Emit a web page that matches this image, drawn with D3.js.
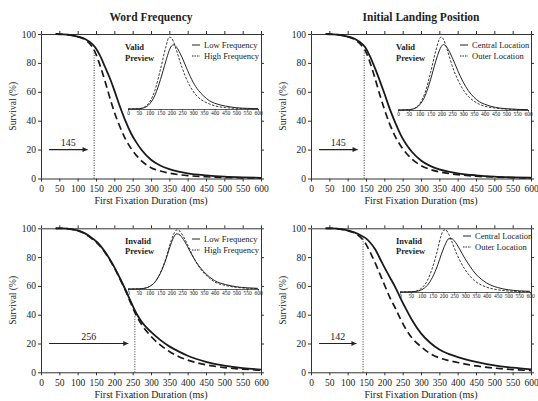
<!DOCTYPE html>
<html>
<head>
<meta charset="utf-8">
<script src="https://cdn.jsdelivr.net/npm/d3@7"></script>
<style>
  body { margin: 0; background: #fff; }
  text { font-family: "Liberation Serif", "DejaVu Serif", serif; fill: #222; }
</style>
</head>
<body>
<div id="chart"></div>
<script>
// ---- data ----
var xTicks = [0, 50, 100, 150, 200, 250, 300, 350, 400, 450, 500, 550, 600];
var yTicks = [0, 20, 40, 60, 80, 100];

// survival curves (%), sampled at these first fixation durations (ms)
var survTime = [40, 60, 80, 100, 120, 140, 150, 160, 175, 190, 200, 215, 230, 245, 260, 275, 300, 325, 350, 375, 400, 450, 500, 550, 600];
var wfValidLow      = [100, 99.8, 99.3, 98.2, 96.5, 93, 90, 85.5, 77, 68, 61, 50, 40, 31.5, 25, 19.5, 13, 9, 6.5, 4.8, 3.6, 2.2, 1.3, 0.8, 0.5];
var wfValidHigh     = [100, 99.8, 99.3, 98.2, 96, 91, 86, 79, 67, 54, 46, 36, 27.5, 21, 16, 12, 7.5, 5.2, 3.7, 2.7, 2.0, 1.2, 0.7, 0.45, 0.3];
var ilpValidCentral = [100, 99.8, 99.3, 98.2, 96.5, 93, 90, 85, 76, 66, 59, 48, 38.5, 30, 23.5, 18.5, 12.5, 8.7, 6.3, 4.7, 3.6, 2.2, 1.3, 0.8, 0.5];
var ilpValidOuter   = [100, 99.8, 99.3, 98.2, 96, 91.5, 87.5, 81, 69, 56, 48, 37.5, 29, 22.5, 17.5, 13.5, 9, 6.3, 4.6, 3.5, 2.7, 1.6, 1.0, 0.6, 0.4];
var wfInvalidLow    = [100, 99.9, 99.5, 98.5, 96.5, 93, 91, 88.5, 83.5, 77.5, 73, 65.5, 57.5, 49, 41, 35, 28, 22.5, 18, 14.5, 11.5, 7.3, 4.6, 2.9, 1.9];
var wfInvalidHigh   = [100, 99.9, 99.5, 98.4, 96.2, 92.5, 90.5, 88, 83, 77, 72.5, 65, 57, 48, 39.5, 33, 25, 19, 14.5, 11, 8.5, 5.2, 3.3, 2.2, 1.5];
var ilpInvalidCentral = [100, 99.9, 99.5, 98.5, 97, 94.5, 93, 90.5, 85.5, 78, 73, 66, 59, 51, 43.5, 36.5, 27, 20.5, 15.8, 12.8, 10.6, 7.3, 4.8, 3.2, 2];
var ilpInvalidOuter   = [100, 99.9, 99.4, 98.3, 96.5, 92.5, 89, 84, 76, 67, 61, 52, 44.5, 36.5, 29.5, 24, 17.8, 13, 10, 8.2, 6.8, 4.4, 2.9, 1.9, 1.2];

// inset density curves (relative height), sampled at these durations (ms)
var densTime = [0, 50, 75, 100, 125, 150, 175, 190, 200, 210, 225, 240, 250, 275, 300, 325, 350, 375, 400, 450, 500, 550, 600];
var wfValidLowD      = [0, 0.005, 0.02, 0.08, 0.22, 0.46, 0.75, 0.91, 0.98, 1.0, 0.96, 0.87, 0.8, 0.6, 0.42, 0.29, 0.2, 0.13, 0.09, 0.045, 0.02, 0.01, 0.005];
var wfValidHighD     = [0, 0.005, 0.03, 0.11, 0.3, 0.62, 0.97, 1.12, 1.11, 1.05, 0.9, 0.74, 0.64, 0.43, 0.28, 0.18, 0.12, 0.08, 0.05, 0.022, 0.01, 0.005, 0.002];
var ilpValidCentralD = [0, 0.005, 0.02, 0.08, 0.22, 0.47, 0.77, 0.92, 0.99, 1.02, 0.98, 0.89, 0.82, 0.62, 0.44, 0.3, 0.2, 0.13, 0.09, 0.04, 0.02, 0.01, 0.005];
var ilpValidOuterD   = [0, 0.005, 0.025, 0.1, 0.27, 0.58, 0.93, 1.1, 1.14, 1.1, 0.96, 0.8, 0.69, 0.48, 0.32, 0.21, 0.14, 0.09, 0.06, 0.03, 0.014, 0.007, 0.003];
var wfInvalidLowD    = [0, 0.003, 0.01, 0.04, 0.11, 0.25, 0.46, 0.62, 0.72, 0.8, 0.86, 0.84, 0.8, 0.66, 0.5, 0.37, 0.27, 0.19, 0.13, 0.07, 0.035, 0.018, 0.01];
var wfInvalidHighD   = [0, 0.003, 0.01, 0.04, 0.11, 0.26, 0.48, 0.65, 0.76, 0.85, 0.92, 0.9, 0.85, 0.69, 0.51, 0.36, 0.25, 0.17, 0.11, 0.055, 0.026, 0.012, 0.006];
var ilpInvalidCentralD = [0, 0.003, 0.01, 0.035, 0.1, 0.23, 0.43, 0.58, 0.67, 0.75, 0.83, 0.83, 0.8, 0.67, 0.52, 0.39, 0.28, 0.2, 0.14, 0.07, 0.035, 0.018, 0.01];
var ilpInvalidOuterD   = [0, 0.004, 0.015, 0.06, 0.17, 0.38, 0.68, 0.88, 0.96, 0.97, 0.9, 0.78, 0.69, 0.5, 0.35, 0.24, 0.16, 0.11, 0.075, 0.035, 0.016, 0.008, 0.004];

// divergence points (ms) and the survival value where the dotted line stops
var divergence = [145, 145, 256, 142];
var divergenceTop = [88, 90, 40, 93];

var titles = ["Word Frequency", "Initial Landing Position"];
var previewNames = [["Valid", "Preview"], ["Invalid", "Preview"]];
var legendWF = ["Low Frequency", "High Frequency"];
var legendILP = ["Central Location", "Outer Location"];

// ---- layout ----
var width = 538, height = 401;
var svg = d3.select("#chart").append("svg")
    .attr("width", width)
    .attr("height", height);

var panels = [
  { x0: 41, x1: 261, y0: 34, y1: 178.5, solid: wfValidLow, dash: wfValidHigh, solidD: wfValidLowD, dashD: wfValidHighD,
    legend: legendWF, preview: previewNames[0], inset: { x0: 128, x1: 258, base: 109 }, leg: { x: 192, y: 45 }, lab: { x: 125, y: 50 } },
  { x0: 311, x1: 531, y0: 34, y1: 178.5, solid: ilpValidCentral, dash: ilpValidOuter, solidD: ilpValidCentralD, dashD: ilpValidOuterD,
    legend: legendILP, preview: previewNames[0], inset: { x0: 398, x1: 528, base: 110 }, leg: { x: 460, y: 45 }, lab: { x: 396, y: 50 } },
  { x0: 41, x1: 261, y0: 228.3, y1: 372.3, solid: wfInvalidLow, dash: wfInvalidHigh, solidD: wfInvalidLowD, dashD: wfInvalidHighD,
    legend: legendWF, preview: previewNames[1], inset: { x0: 128, x1: 258, base: 289 }, leg: { x: 192, y: 239 }, lab: { x: 125, y: 243.5 } },
  { x0: 311, x1: 531, y0: 228.3, y1: 372.3, solid: ilpInvalidCentral, dash: ilpInvalidOuter, solidD: ilpInvalidCentralD, dashD: ilpInvalidOuterD,
    legend: legendILP, preview: previewNames[1], inset: { x0: 400, x1: 530, base: 292 }, leg: { x: 463, y: 236 }, lab: { x: 396, y: 243.5 } }
];

// arrowhead marker
svg.append("defs").append("marker")
    .attr("id", "arrow")
    .attr("viewBox", "0 0 10 10")
    .attr("refX", 10).attr("refY", 5)
    .attr("markerWidth", 7).attr("markerHeight", 5)
    .attr("markerUnits", "userSpaceOnUse")
    .attr("orient", "auto")
  .append("path")
    .attr("d", "M0,0L10,5L0,10Z")
    .attr("fill", "#222");

function styleAxis(g) {
  g.selectAll(".domain").attr("stroke", "#333").attr("stroke-width", 1);
  g.selectAll(".tick line").attr("stroke", "#333");
  g.selectAll("text").attr("fill", "#222").style("font-family", "'Liberation Serif', serif");
}

panels.forEach(function (p, i) {
  var x = d3.scaleLinear().domain([0, 600]).range([p.x0, p.x1]);
  var y = d3.scaleLinear().domain([0, 100]).range([p.y1, p.y0]);

  // axes on all four sides, labels on bottom and left
  svg.append("g").attr("transform", "translate(0," + p.y1 + ")")
      .call(d3.axisBottom(x).tickValues(xTicks).tickSize(3).tickSizeOuter(0).tickPadding(4))
      .attr("font-size", 9.5).call(styleAxis);
  svg.append("g").attr("transform", "translate(0," + p.y0 + ")")
      .call(d3.axisTop(x).tickValues(xTicks).tickSize(3).tickSizeOuter(0).tickFormat(""))
      .call(styleAxis);
  svg.append("g").attr("transform", "translate(" + p.x0 + ",0)")
      .call(d3.axisLeft(y).tickValues(yTicks).tickSize(3).tickSizeOuter(0).tickPadding(2))
      .attr("font-size", 9.5).call(styleAxis);
  svg.append("g").attr("transform", "translate(" + p.x1 + ",0)")
      .call(d3.axisRight(y).tickValues(yTicks).tickSize(3).tickSizeOuter(0).tickFormat(""))
      .call(styleAxis);

  // axis titles
  svg.append("text")
      .attr("x", (p.x0 + p.x1) / 2).attr("y", p.y1 + 25.5)
      .attr("text-anchor", "middle").attr("font-size", 10)
      .text("First Fixation Duration (ms)");
  svg.append("text")
      .attr("transform", "translate(" + (p.x0 - 25) + "," + ((p.y0 + p.y1) / 2) + ") rotate(-90)")
      .attr("text-anchor", "middle").attr("font-size", 9.5)
      .text("Survival (%)");

  if (i < 2) {
    svg.append("text")
        .attr("x", (p.x0 + p.x1) / 2).attr("y", 21)
        .attr("text-anchor", "middle").attr("font-size", 11.5).attr("font-weight", "bold")
        .text(titles[i]);
  }

  // survival curves
  var line = d3.line()
      .x(function (d, k) { return x(survTime[k]); })
      .y(function (d) { return y(d); })
      .curve(d3.curveMonotoneX);
  svg.append("path").datum(p.dash)
      .attr("d", line).attr("fill", "none")
      .attr("stroke", "#1a1a1a").attr("stroke-width", 1.7).attr("stroke-dasharray", "7,4");
  svg.append("path").datum(p.solid)
      .attr("d", line).attr("fill", "none")
      .attr("stroke", "#1a1a1a").attr("stroke-width", 1.8);

  // divergence point line and arrow
  svg.append("line")
      .attr("x1", x(divergence[i])).attr("x2", x(divergence[i]))
      .attr("y1", y(0)).attr("y2", y(divergenceTop[i]))
      .attr("stroke", "#333").attr("stroke-width", 1).attr("stroke-dasharray", "1,1.5");
  var a0 = 22, a1 = divergence[i] - 18;
  svg.append("line")
      .attr("x1", x(a0)).attr("x2", x(a1))
      .attr("y1", y(20)).attr("y2", y(20))
      .attr("stroke", "#222").attr("stroke-width", 1.1)
      .attr("marker-end", "url(#arrow)");
  svg.append("text")
      .attr("x", x((a0 + a1) / 2)).attr("y", y(20) - 3.5)
      .attr("text-anchor", "middle").attr("font-size", 10)
      .text(divergence[i]);

  // inset: distributions
  var ix = d3.scaleLinear().domain([0, 600]).range([p.inset.x0, p.inset.x1]);
  var iy = d3.scaleLinear().domain([0, 1.2]).range([p.inset.base, p.inset.base - 77]);
  svg.append("g").attr("transform", "translate(0," + p.inset.base + ")")
      .call(d3.axisBottom(ix).tickValues(xTicks).tickSize(1.5).tickSizeOuter(0).tickPadding(1))
      .attr("font-size", 5.5).call(styleAxis)
      .call(function (g) { g.selectAll(".domain").attr("stroke-width", 0.8); });
  var dline = d3.line()
      .x(function (d, k) { return ix(densTime[k]); })
      .y(function (d) { return iy(d); })
      .curve(d3.curveMonotoneX);
  svg.append("path").datum(p.dashD)
      .attr("d", dline).attr("fill", "none")
      .attr("stroke", "#222").attr("stroke-width", 0.9).attr("stroke-dasharray", "2.5,1.5");
  svg.append("path").datum(p.solidD)
      .attr("d", dline).attr("fill", "none")
      .attr("stroke", "#222").attr("stroke-width", 1);

  // preview label
  svg.append("text")
      .attr("x", p.lab.x).attr("y", p.lab.y)
      .attr("font-size", 8.5).attr("font-weight", "bold")
      .text(p.preview[0]);
  svg.append("text")
      .attr("x", p.lab.x).attr("y", p.lab.y + 10.5)
      .attr("font-size", 8.5).attr("font-weight", "bold")
      .text(p.preview[1]);

  // legend
  p.legend.forEach(function (name, k) {
    var ly = p.leg.y + k * 11;
    svg.append("line")
        .attr("x1", p.leg.x).attr("x2", p.leg.x + 8)
        .attr("y1", ly).attr("y2", ly)
        .attr("stroke", "#222").attr("stroke-width", 1)
        .attr("stroke-dasharray", k === 0 ? null : "1.5,1");
    svg.append("text")
        .attr("x", p.leg.x + 12).attr("y", ly + 3)
        .attr("font-size", 8.5)
        .text(name);
  });
});
</script>
</body>
</html>
